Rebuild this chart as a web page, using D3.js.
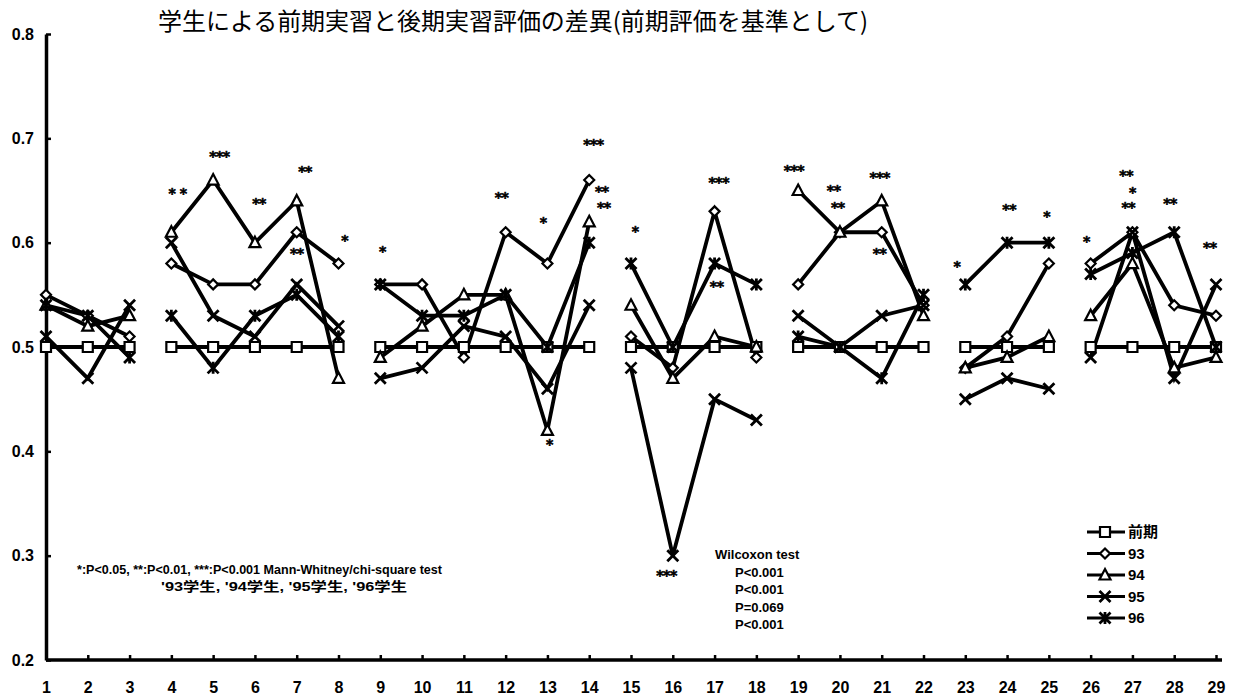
<!DOCTYPE html>
<html>
<head>
<meta charset="utf-8">
<script src="https://cdn.jsdelivr.net/npm/d3@7"></script>
<style>
  body { margin: 0; background: #fff; }
  svg { display: block; }
  text { fill: #000; }
  .axis .tick text { font-family: "Liberation Sans", Arial, sans-serif; font-weight: bold; font-size: 16px; }
  .axis .domain { stroke: #000; stroke-width: 3.5; }
  .axis .tick line { stroke: #000; stroke-width: 2.5; }
  .title { font-family: "Noto Sans CJK JP", sans-serif; font-size: 24px; }
  .note { font-family: "Liberation Sans", "Noto Sans CJK JP", sans-serif; font-weight: bold; font-size: 13px; }
  .sig { font-family: "DejaVu Sans", sans-serif; font-weight: bold; font-size: 14px; stroke: #000; stroke-width: 0.6px; }
  .legend-label { font-family: "Liberation Sans", "Noto Sans CJK JP", sans-serif; font-weight: bold; font-size: 15px; }
</style>
</head>
<body>
<div id="chart"></div>
<script>
const CATEGORIES = d3.range(1, 30);
const Y_TICKS = [0.2, 0.3, 0.4, 0.5, 0.6, 0.7, 0.8];
// groups of consecutive items joined by lines
const GROUPS = [[1, 3], [4, 8], [9, 14], [15, 18], [19, 22], [23, 25], [26, 29]];

const SERIES_NAMES = ["前期", "93", "94", "95", "96"];
const SERIES_MARKERS = ["square", "diamond", "triangle", "x", "star"];

const zenki = [0.5, 0.5, 0.5, 0.5, 0.5, 0.5, 0.5, 0.5, 0.5, 0.5, 0.5, 0.5, 0.5, 0.5,
  0.5, 0.5, 0.5, 0.5, 0.5, 0.5, 0.5, 0.5, 0.5, 0.5, 0.5, 0.5, 0.5, 0.5, 0.5];
const s93 = [0.55, 0.53, 0.51, 0.58, 0.56, 0.56, 0.61, 0.58, 0.56, 0.56, 0.49, 0.61, 0.58, 0.66,
  0.51, 0.48, 0.63, 0.49, 0.56, 0.61, 0.61, 0.54, 0.48, 0.51, 0.58, 0.58, 0.61, 0.54, 0.53];
const s94 = [0.54, 0.52, 0.53, 0.61, 0.66, 0.60, 0.64, 0.47, 0.49, 0.52, 0.55, 0.55, 0.42, 0.62,
  0.54, 0.47, 0.51, 0.50, 0.65, 0.61, 0.64, 0.53, 0.48, 0.49, 0.51, 0.53, 0.58, 0.48, 0.49];
const s95 = [0.51, 0.47, 0.54, 0.60, 0.53, 0.51, 0.56, 0.52, 0.47, 0.48, 0.52, 0.51, 0.46, 0.54,
  0.48, 0.30, 0.45, 0.43, 0.53, 0.50, 0.53, 0.54, 0.45, 0.47, 0.46, 0.49, 0.61, 0.47, 0.56];
const s96 = [0.54, 0.53, 0.49, 0.53, 0.48, 0.53, 0.55, 0.51, 0.56, 0.53, 0.53, 0.55, 0.50, 0.60,
  0.58, 0.50, 0.58, 0.56, 0.51, 0.50, 0.47, 0.55, 0.56, 0.60, 0.60, 0.57, 0.59, 0.61, 0.50];
const SERIES_VALUES = [zenki, s93, s94, s95, s96];

// significance marks: [item, value, text]
const SIG_MARKS = [
  [4.15, 0.650, "* *"], [5.15, 0.686, "***"], [6.1, 0.641, "**"], [7.2, 0.671, "**"],
  [7.0, 0.593, "**"], [8.15, 0.605, "*"], [9.05, 0.595, "*"], [11.9, 0.646, "**"],
  [12.9, 0.622, "*"], [13.05, 0.410, "*"], [14.1, 0.697, "***"], [14.3, 0.652, "**"],
  [14.35, 0.637, "**"], [15.1, 0.614, "*"], [15.85, 0.284, "***"], [17.1, 0.661, "***"],
  [17.05, 0.561, "**"], [18.9, 0.672, "***"], [19.85, 0.653, "**"], [19.95, 0.637, "**"],
  [20.95, 0.666, "***"], [20.95, 0.593, "**"], [22.8, 0.580, "*"], [24.05, 0.635, "**"],
  [24.95, 0.628, "*"], [25.9, 0.604, "*"], [26.85, 0.667, "**"], [27.0, 0.651, "*"],
  [26.9, 0.637, "**"], [27.9, 0.641, "**"], [28.85, 0.598, "**"]
];

const TITLE = "学生による前期実習と後期実習評価の差異(前期評価を基準として)";
const NOTE_LINES = ["*:P<0.05, **:P<0.01, ***:P<0.001 Mann-Whitney/chi-square test",
  "'93学生, '94学生, '95学生, '96学生"];
const WILCOXON_LINES = ["Wilcoxon test", "P<0.001", "P<0.001", "P=0.069", "P<0.001"];

const width = 1235;
const height = 700;

const x = d3.scaleLinear().domain([1, 29]).range([46, 1216]);
const y = d3.scaleLinear().domain([0.2, 0.8]).range([660, 34]);

const svg = d3.select("#chart").append("svg")
  .attr("width", width)
  .attr("height", height);

svg.append("text")
  .attr("class", "title")
  .attr("x", 158)
  .attr("y", 30)
  .attr("textLength", 710)
  .attr("lengthAdjust", "spacingAndGlyphs")
  .text(TITLE);

svg.append("g")
  .attr("class", "axis")
  .attr("transform", "translate(46,0)")
  .call(d3.axisLeft(y).tickValues(Y_TICKS).tickFormat(d3.format(".1f"))
    .tickSizeInner(-5).tickSizeOuter(0).tickPadding(12));

const xAxis = svg.append("g")
  .attr("class", "axis")
  .attr("transform", "translate(0,660)")
  .call(d3.axisBottom(x).tickValues(CATEGORIES).tickFormat(d3.format("d"))
    .tickSizeInner(-5).tickSizeOuter(0).tickPadding(22));
// axis line runs a little past the last item
xAxis.select(".domain").attr("d", `M${x(1)},0H${x(29) + 6}`);

function markerPath(kind) {
  const p = d3.path();
  if (kind === "square") {
    p.rect(-5, -5, 10, 10);
  } else if (kind === "diamond") {
    p.moveTo(0, -5); p.lineTo(5, 0); p.lineTo(0, 5); p.lineTo(-5, 0); p.closePath();
  } else if (kind === "triangle") {
    p.moveTo(0, -6); p.lineTo(5.5, 4.5); p.lineTo(-5.5, 4.5); p.closePath();
  } else if (kind === "x") {
    p.moveTo(-5.5, -5.5); p.lineTo(5.5, 5.5); p.moveTo(5.5, -5.5); p.lineTo(-5.5, 5.5);
  } else {
    p.moveTo(-5.5, -5.5); p.lineTo(5.5, 5.5); p.moveTo(5.5, -5.5); p.lineTo(-5.5, 5.5);
    p.moveTo(0, -6); p.lineTo(0, 6);
  }
  return p.toString();
}

function drawMarker(sel, kind) {
  const filled = kind === "square" || kind === "diamond" || kind === "triangle";
  sel.append("path")
    .attr("d", markerPath(kind))
    .attr("fill", filled ? "#fff" : "none")
    .attr("stroke", "#000")
    .attr("stroke-width", filled ? 2.2 : 2.8);
}

const line = d3.line()
  .x((d) => x(d.cat))
  .y((d) => y(d.value));

const plot = svg.append("g");

SERIES_VALUES.forEach((values) => {
  const points = values.map((value, i) => ({ cat: CATEGORIES[i], value }));
  GROUPS.forEach(([a, b]) => {
    plot.append("path")
      .datum(points.filter((d) => d.cat >= a && d.cat <= b))
      .attr("d", line)
      .attr("fill", "none")
      .attr("stroke", "#000")
      .attr("stroke-width", 3.8)
      .attr("stroke-linejoin", "miter");
  });
});

SERIES_VALUES.forEach((values, si) => {
  const kind = SERIES_MARKERS[si];
  values.forEach((value, i) => {
    const g = plot.append("g")
      .attr("transform", `translate(${x(CATEGORIES[i])},${y(value)})`);
    drawMarker(g, kind);
  });
});

svg.append("g")
  .selectAll("text")
  .data(SIG_MARKS)
  .join("text")
  .attr("class", "sig")
  .attr("x", (d) => x(d[0]))
  .attr("y", (d) => y(d[1]))
  .attr("dy", "0.55em")
  .attr("text-anchor", "middle")
  .style("letter-spacing", "-0.5px")
  .text((d) => d[2]);

const note = svg.append("g");
note.append("text").attr("class", "note")
  .attr("x", 77).attr("y", 574)
  .attr("textLength", 365).attr("lengthAdjust", "spacingAndGlyphs")
  .text(NOTE_LINES[0]);
note.append("text").attr("class", "note")
  .attr("x", 161).attr("y", 591)
  .attr("textLength", 246).attr("lengthAdjust", "spacingAndGlyphs")
  .text(NOTE_LINES[1]);

svg.append("g")
  .selectAll("text")
  .data(WILCOXON_LINES)
  .join("text")
  .attr("class", "note")
  .attr("x", (d, i) => (i === 0 ? 715 : 735))
  .attr("y", (d, i) => 559 + i * 17.5)
  .text((d) => d);

const legend = svg.append("g").attr("transform", "translate(1087,532)");
SERIES_NAMES.forEach((name, i) => {
  const row = legend.append("g").attr("transform", `translate(0,${i * 21.5})`);
  row.append("line")
    .attr("x1", 0).attr("x2", 38)
    .attr("stroke", "#000").attr("stroke-width", 3.2);
  const m = row.append("g").attr("transform", "translate(18,0)");
  drawMarker(m, SERIES_MARKERS[i]);
  row.append("text")
    .attr("class", "legend-label")
    .attr("x", 41)
    .attr("dy", "0.36em")
    .text(name);
});
</script>
</body>
</html>
